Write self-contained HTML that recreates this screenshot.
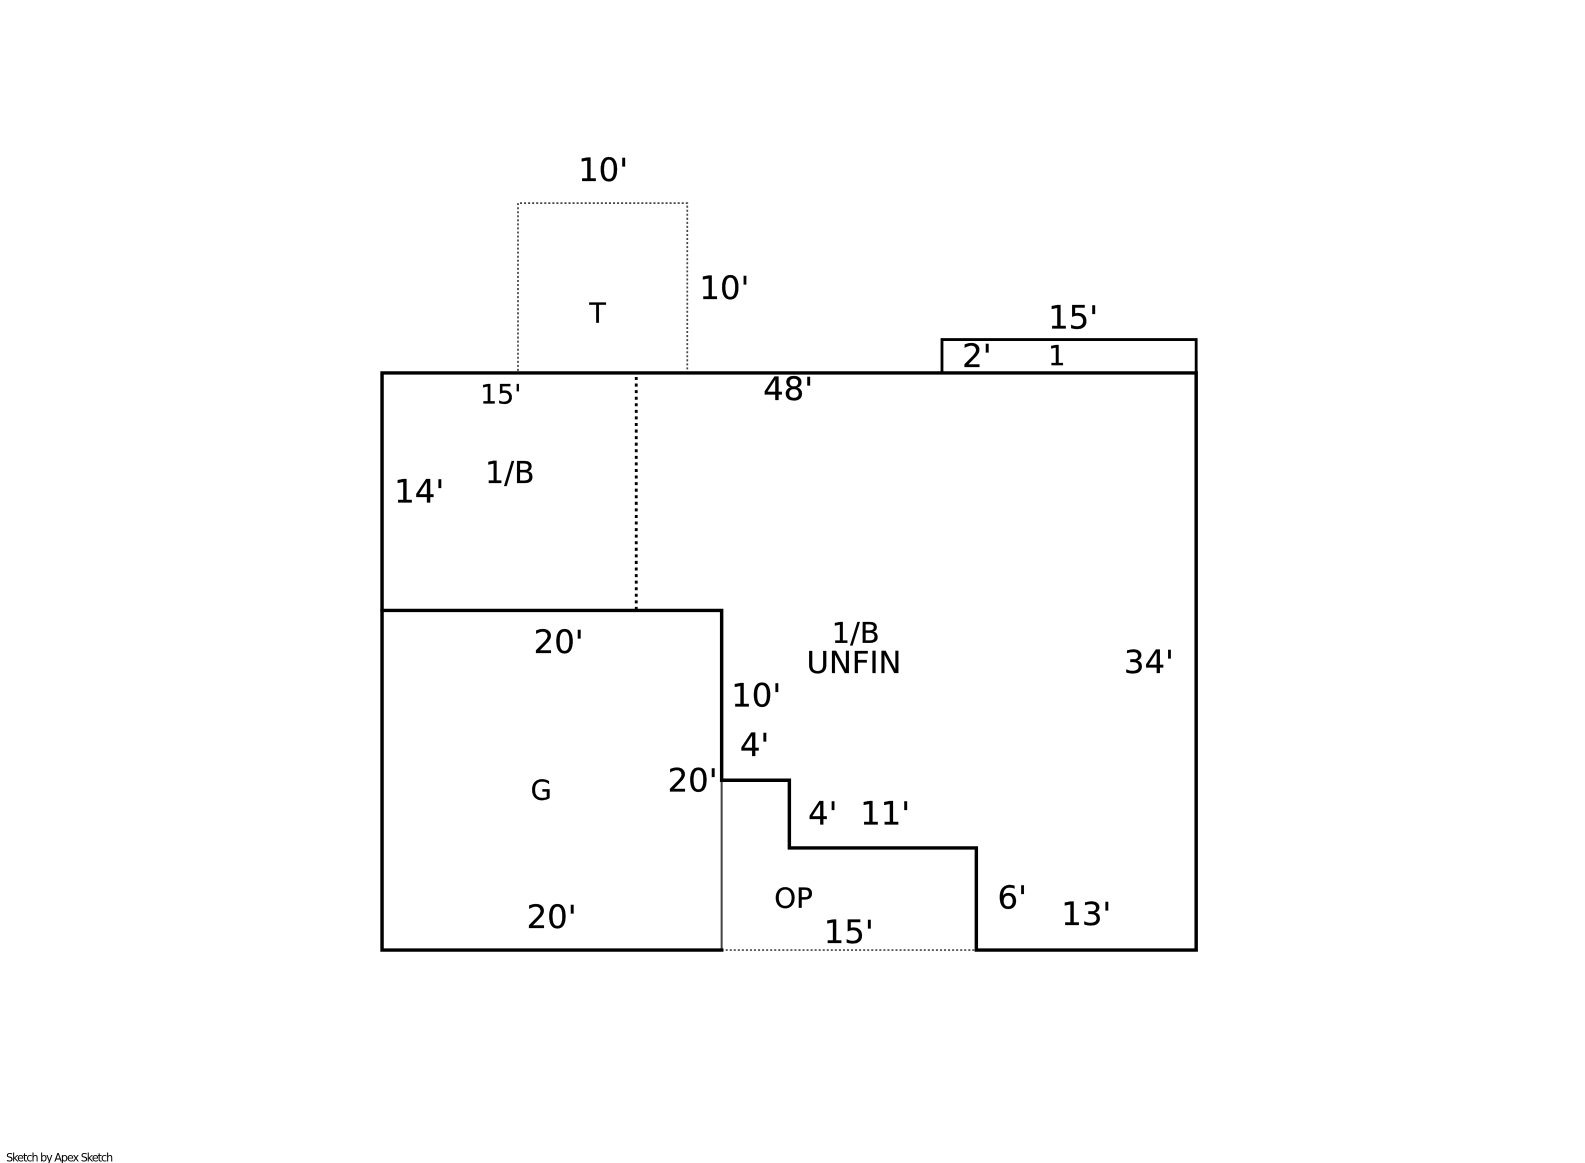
<!DOCTYPE html>
<html>
<head>
<meta charset="utf-8">
<style>
html,body{margin:0;padding:0;background:#fff;width:1585px;height:1163px;overflow:hidden}
svg{display:block}
text{font-family:"DejaVu Sans","Liberation Sans",sans-serif;fill:#000;stroke:#000;stroke-width:.2px}
.b{font-size:32px}
.s{font-size:27px}
</style>
</head>
<body>
<svg width="1585" height="1163" viewBox="0 0 1568.2 1150.7" preserveAspectRatio="none" xmlns="http://www.w3.org/2000/svg">
<rect width="1568.2" height="1150.7" fill="#fff"/>
<g fill="none" stroke="#444" stroke-width="1.700" stroke-dasharray="2 2">
<path d="M512.500 367V201H680V367"/>
<path d="M714 940H966"/>
</g>
<path d="M629.500 373V603" fill="none" stroke="#000" stroke-width="2.800" stroke-dasharray="3 3.500"/>
<path d="M714 772V940" fill="none" stroke="#444" stroke-width="2"/>
<g fill="none" stroke="#000" stroke-linejoin="miter" stroke-linecap="square">
<path d="M378 369H1183.500V940H966V839H781V772H714V604H378V369" stroke-width="3.400"/>
<path d="M378 604V940H714" stroke-width="3.400"/>
<path d="M932 369V336H1183.500V369" stroke-width="2.800"/>
</g>
<text class="b" x="572" y="179">10'</text>
<text class="b" x="692" y="296">10'</text>
<text class="b" x="1037" y="325">15'</text>
<text class="b" x="952" y="363">2'</text>
<text class="s" x="1037" y="361">1</text>
<text class="s" x="583" y="319">T</text>
<text x="475" y="399" style="font-size:26.500px">15'</text>
<text class="b" x="755" y="396">48'</text>
<text class="b" x="390" y="497">14'</text>
<text x="480" y="478" style="font-size:29.500px">1/B</text>
<text x="823" y="636" style="font-size:28.500px">1/B</text>
<text x="798" y="666" style="font-size:30.300px">UNFIN</text>
<text class="b" x="1112" y="666">34'</text>
<text class="b" x="528" y="646">20'</text>
<text class="b" x="723.500" y="699">10'</text>
<text class="b" x="732" y="748">4'</text>
<text class="b" x="660.500" y="783">20'</text>
<text class="s" x="525" y="791">G</text>
<text class="b" x="799.500" y="816">4'</text>
<text class="b" x="851" y="816">11'</text>
<text x="766" y="898" style="font-size:27.500px">OP</text>
<text class="b" x="987" y="899">6'</text>
<text class="b" x="1050" y="915">13'</text>
<text class="b" x="815" y="933">15'</text>
<text class="b" x="521" y="918">20'</text>
<text x="6" y="1149" textLength="106" lengthAdjust="spacing" style="font-size:11px;stroke-width:0">Sketch by Apex Sketch</text>
</svg>
</body>
</html>
